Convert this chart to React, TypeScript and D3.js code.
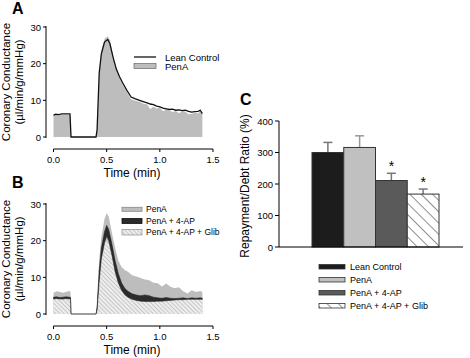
import React from "react";
import * as d3 from "d3";

// ---- panel A data ----
const timeA = [0, 0.02, 0.05, 0.08, 0.11, 0.14, 0.155, 0.165, 0.4, 0.41, 0.43, 0.45, 0.48, 0.51, 0.53, 0.56, 0.59, 0.62, 0.65, 0.69, 0.73, 0.77, 0.81, 0.85, 0.88, 0.91, 0.94, 0.97, 1.0, 1.03, 1.06, 1.09, 1.12, 1.15, 1.18, 1.21, 1.24, 1.27, 1.3, 1.33, 1.36, 1.38, 1.4];
const leanA = [5.9, 6.2, 6.1, 6.3, 6.3, 6.3, 6.3, 0, 0, 2, 17.5, 22.7, 25.9, 26.6, 25.5, 21.8, 18.6, 16.5, 14.8, 12.7, 10.9, 10.4, 10.0, 9.6, 9.3, 9.0, 8.8, 8.4, 8.2, 7.9, 7.7, 7.5, 7.6, 7.3, 7.4, 7.2, 7.3, 7.0, 6.8, 6.9, 7.0, 7.3, 6.4];
const penA = [5.8, 6.0, 5.9, 6.0, 6.1, 6.0, 6.0, 0, 0, 2, 17.8, 23.5, 26.8, 27.5, 26.5, 22, 18.8, 16.2, 14.3, 12.2, 10.3, 9.9, 9.6, 9.0, 8.9, 7.6, 8.3, 7.8, 8.0, 7.0, 7.5, 7.2, 6.8, 7.1, 6.5, 7.0, 6.9, 6.2, 6.3, 6.6, 6.4, 7.0, 6.2];

// ---- panel B data ----
const timeB = [0, 0.03, 0.06, 0.09, 0.12, 0.15, 0.16, 0.165, 0.4, 0.41, 0.43, 0.45, 0.48, 0.5, 0.52, 0.55, 0.58, 0.61, 0.64, 0.67, 0.7, 0.74, 0.78, 0.82, 0.86, 0.9, 0.94, 0.98, 1.02, 1.06, 1.1, 1.14, 1.18, 1.22, 1.26, 1.3, 1.34, 1.38, 1.4];
const penB = [5.8, 6.2, 6.0, 5.8, 6.1, 6.3, 6.0, 0, 0, 3, 15, 21, 26, 27.5, 26.5, 22, 18, 14.5, 12.8, 12.0, 11.5, 10.6, 10.2, 9.8, 9.4, 9.2, 8.5, 8.4, 7.5, 8.3, 7.4, 7.0, 7.3, 6.2, 5.6, 6.5, 6.0, 6.3, 6.0];
const apHigh = [4.6, 4.7, 4.5, 4.6, 4.7, 4.6, 4.6, 0, 0, 2, 12, 18, 22.5, 24.2, 23, 19, 14.5, 11, 8.5, 7, 6.2, 5.5, 5.2, 5.0, 5.2, 5.0, 4.6, 4.4, 4.3, 4.5, 4.3, 4.2, 4.3, 4.4, 4.2, 4.4, 4.3, 4.4, 4.3];
const apLow = [4.1, 4.2, 4.1, 4.1, 4.2, 4.1, 4.1, 0, 0, 1, 9, 15, 19.5, 21.2, 20, 16, 11.5, 8.5, 6.5, 5.3, 4.6, 4.0, 3.7, 3.5, 3.4, 3.4, 3.4, 3.5, 3.5, 3.6, 3.7, 3.8, 3.9, 3.9, 4.0, 4.0, 4.0, 4.0, 4.0];
const glibB = [4.0, 4.1, 4.0, 4.0, 4.1, 4.0, 4.0, 0, 0, 1, 9, 15, 19, 20.2, 19, 15.5, 11, 8, 6.2, 5.0, 4.4, 3.9, 3.7, 3.6, 3.5, 3.5, 3.6, 3.6, 3.7, 3.8, 3.9, 4.0, 4.0, 4.0, 4.0, 4.0, 4.0, 4.0, 4.0];

const timeTicks = [0, 0.5, 1.0, 1.5];
const condTicks = [0, 10, 20, 30];

// ---- panel C data ----
const groups = ["Lean Control", "PenA", "PenA + 4-AP", "PenA + 4-AP + Glib"];
const ratio = [300, 316, 211, 168];
const ratioErr = [32, 37, 23, 16];
const significant = [false, false, true, true];
const ratioTicks = [0, 100, 200, 300, 400];

const FONT = "Liberation Sans, Arial, sans-serif";
const barFill = ["#1c1c1c", "#c0c0c0", "#5a5a5a", "url(#hatchC)"];
const errColor = ["#777", "#999", "#777", "#777"];

function TimePanel({ top, label, labelY, children }: any) {
  const x = d3.scaleLinear().domain([0, 1.5]).range([53.5, 213]);
  const y = d3.scaleLinear().domain([0, 30]).range([top + 110, top]);
  const axisY = top + 122;
  const yAxisX = 46;
  return (
    <g>
      <text x={12} y={labelY} fontSize={16} fontWeight="bold" fontFamily={FONT}>{label}</text>
      {children(x, y)}
      <line x1={yAxisX} x2={yAxisX} y1={y(30) - 1} y2={y(0) + 1} stroke="#000" />
      {condTicks.map((t) => (
        <g key={t}>
          <line x1={yAxisX - 3} x2={yAxisX} y1={y(t)} y2={y(t)} stroke="#000" />
          <text x={yAxisX - 5} y={y(t) + 3.5} fontSize={9.5} textAnchor="end" fontFamily={FONT}>{t}</text>
        </g>
      ))}
      <line x1={x(0)} x2={x(1.5)} y1={axisY} y2={axisY} stroke="#000" />
      {timeTicks.map((t) => (
        <g key={t}>
          <line x1={x(t)} x2={x(t)} y1={axisY} y2={axisY + 3} stroke="#000" />
          <text x={x(t)} y={axisY + 14} fontSize={9.5} textAnchor="middle" fontFamily={FONT}>{d3.format(".1f")(t)}</text>
        </g>
      ))}
      <text x={132} y={axisY + 28} fontSize={12} textAnchor="middle" fontFamily={FONT}>Time (min)</text>
      <text transform={`translate(10,${top + 55}) rotate(-90)`} fontSize={11.5} textAnchor="middle" fontFamily={FONT}>Coronary Conductance</text>
      <text transform={`translate(22.5,${top + 55}) rotate(-90)`} fontSize={11.5} textAnchor="middle" fontFamily={FONT}>(µl/min/g/mmHg)</text>
    </g>
  );
}

export default function App() {
  const idxA = timeA.map((_, i) => i);
  const idxB = timeB.map((_, i) => i);

  const yC = d3.scaleLinear().domain([0, 400]).range([247, 121]);
  const xC = d3.scaleBand().domain(groups).range([312, 439]).padding(0);

  return (
    <svg width={470} height={358} style={{ position: "absolute", left: 0, top: 0, background: "#fff" }}>
      <defs>
        <pattern id="hatchB" patternUnits="userSpaceOnUse" width={3} height={3} patternTransform="rotate(-45)">
          <rect width={3} height={3} fill="#eeeeee" />
          <line x1={0} y1={0} x2={0} y2={3} stroke="#a0a0a0" strokeWidth={1} />
        </pattern>
        <pattern id="hatchC" patternUnits="userSpaceOnUse" width={8} height={8} patternTransform="rotate(-45)">
          <rect width={8} height={8} fill="#fff" />
          <line x1={0} y1={0} x2={0} y2={8} stroke="#222" strokeWidth={1} />
        </pattern>
      </defs>

      {/* Panel A */}
      <TimePanel top={27} label="A" labelY={14}>
        {(x: any, y: any) => {
          const area = d3.area<number>().x((i) => x(timeA[i])).y0(y(0)).y1((i) => y(penA[i]));
          const line = d3.line<number>().x((i) => x(timeA[i])).y((i) => y(leanA[i]));
          return (
            <g>
              <path d={area(idxA) || ""} fill="#bdbdbd" />
              <path d={line(idxA) || ""} fill="none" stroke="#111" strokeWidth={1.3} />
              <line x1={134} x2={156} y1={57} y2={57} stroke="#111" strokeWidth={1.3} />
              <text x={165} y={60.5} fontSize={9.5} fontFamily={FONT}>Lean Control</text>
              <rect x={134} y={63.5} width={22} height={5} fill="#bdbdbd" stroke="#777" strokeWidth={0.8} />
              <text x={165} y={69.5} fontSize={9.5} fontFamily={FONT}>PenA</text>
            </g>
          );
        }}
      </TimePanel>

      {/* Panel B */}
      <TimePanel top={204} label="B" labelY={188}>
        {(x: any, y: any) => {
          const pen = d3.area<number>().x((i) => x(timeB[i])).y0(y(0)).y1((i) => y(penB[i]));
          const band = d3.area<number>().x((i) => x(timeB[i])).y0((i) => y(apLow[i])).y1((i) => y(apHigh[i]));
          const glib = d3.area<number>().x((i) => x(timeB[i])).y0(y(0)).y1((i) => y(glibB[i]));
          return (
            <g>
              <path d={pen(idxB) || ""} fill="#bdbdbd" />
              <path d={glib(idxB) || ""} fill="url(#hatchB)" />
              <path d={band(idxB) || ""} fill="#2b2b2b" stroke="#222" strokeWidth={0.5} />
              <rect x={122} y={207.3} width={20} height={4} fill="#bdbdbd" stroke="#888" strokeWidth={0.8} />
              <text x={146} y={212.3} fontSize={8.5} fontFamily={FONT}>PenA</text>
              <rect x={122} y={218.5} width={20} height={5} fill="#2b2b2b" stroke="#111" strokeWidth={0.8} />
              <text x={146} y={224} fontSize={8.5} fontFamily={FONT}>PenA + 4-AP</text>
              <rect x={122} y={229.5} width={20} height={5.5} fill="url(#hatchB)" stroke="#999" strokeWidth={0.8} />
              <text x={146} y={235.3} fontSize={8.5} fontFamily={FONT}>PenA + 4-AP + Glib</text>
            </g>
          );
        }}
      </TimePanel>

      {/* Panel C */}
      <text x={240} y={105} fontSize={16} fontWeight="bold" fontFamily={FONT}>C</text>
      {groups.map((g, i) => {
        const bx = xC(g)!;
        const cx = bx + xC.bandwidth() / 2;
        return (
          <g key={g}>
            <line x1={cx} x2={cx} y1={yC(ratio[i])} y2={yC(ratio[i] + ratioErr[i])} stroke={errColor[i]} strokeWidth={1.5} />
            <line x1={cx - 4.5} x2={cx + 4.5} y1={yC(ratio[i] + ratioErr[i])} y2={yC(ratio[i] + ratioErr[i])} stroke={errColor[i]} strokeWidth={1.5} />
            <rect x={bx} y={yC(ratio[i])} width={xC.bandwidth()} height={yC(0) - yC(ratio[i])} fill={barFill[i]} stroke="#333" strokeWidth={1} />
            {significant[i] && (
              <text x={cx} y={yC(ratio[i] + ratioErr[i]) - 2} fontSize={14} textAnchor="middle" fontFamily={FONT}>*</text>
            )}
          </g>
        );
      })}
      <line x1={279} x2={279} y1={yC(400)} y2={yC(0)} stroke="#000" />
      <line x1={279} x2={463} y1={yC(0)} y2={yC(0)} stroke="#000" />
      {ratioTicks.map((t) => (
        <g key={t}>
          <line x1={275} x2={279} y1={yC(t)} y2={yC(t)} stroke="#000" />
          <text x={273} y={yC(t) + 3.5} fontSize={9.5} textAnchor="end" fontFamily={FONT}>{t}</text>
        </g>
      ))}
      <text transform="translate(249,186) rotate(-90)" fontSize={12} textAnchor="middle" fontFamily={FONT}>Repayment/Debt Ratio (%)</text>
      {groups.map((g, i) => (
        <g key={g}>
          <rect x={319} y={264.5 + i * 13} width={26} height={4.5} fill={barFill[i]} stroke="#333" strokeWidth={0.8} />
          <text x={350} y={270.3 + i * 13} fontSize={9} fontFamily={FONT}>{g}</text>
        </g>
      ))}
    </svg>
  );
}
